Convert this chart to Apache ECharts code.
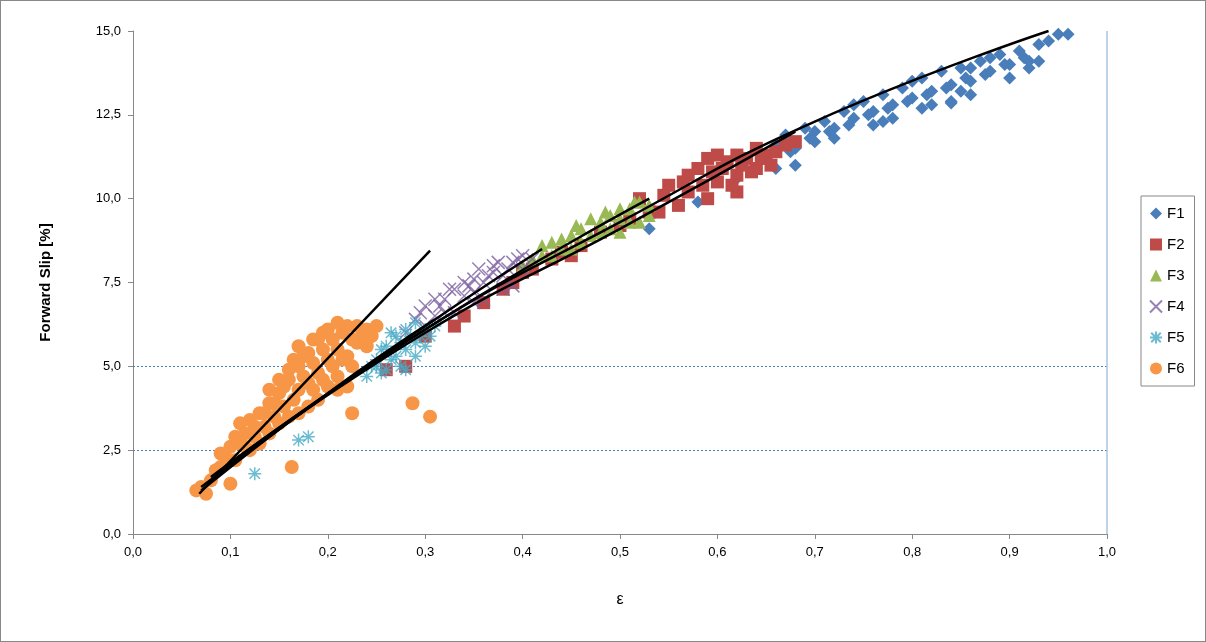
<!DOCTYPE html>
<html><head><meta charset="utf-8">
<script src="https://cdn.jsdelivr.net/npm/echarts@6/dist/echarts.min.js"></script>
<style>html,body{margin:0;padding:0;background:#fff}#c{width:1206px;height:642px;box-sizing:border-box;border:1px solid #888}</style>
</head><body><div id="c"></div>
<script>
// 数据
var names = ['F1', 'F2', 'F3', 'F4', 'F5', 'F6']
var colors = ['#4a7ebb', '#be4b48', '#98b954', '#7d60a0', '#46aac5', '#f79646']
var symbols = ['diamond', 'rect', 'triangle', 'path://M0,0L10,10M10,0L0,10', 'path://M5,0L5,10M0,5L10,5M1,1L9,9M9,1L1,9', 'circle']

var f1 = [[0.66,11.6],[0.67,11.9],[0.68,11.0],[0.69,12.1],[0.70,12.0],[0.71,12.3],[0.72,12.1],[0.73,12.6],[0.74,12.4],[0.75,12.9],[0.76,12.6],[0.77,13.1],[0.78,12.8],[0.79,13.3],[0.80,13.0],[0.81,13.6],[0.82,13.2],[0.83,13.8],[0.84,12.9],[0.85,13.9],[0.86,13.5],[0.87,14.1],[0.88,13.8],[0.89,14.3],[0.90,14.0],[0.91,14.4],[0.92,14.1],[0.93,14.6],[0.94,14.7],[0.95,14.9],[0.96,14.9],[0.72,11.8],[0.78,12.4],[0.84,13.4],[0.90,13.6],[0.82,12.8],[0.53,9.1],[0.58,9.9],[0.62,10.6],[0.66,10.9],[0.70,11.7],[0.76,12.2],[0.86,13.1],[0.92,13.9],
  [0.675,11.4],[0.695,11.8],[0.715,12.0],[0.735,12.2],[0.755,12.5],[0.775,12.7],[0.795,12.9],[0.815,13.1],[0.835,13.3],[0.855,13.6],[0.875,13.7],[0.895,14.0],[0.915,14.2],[0.74,12.8],[0.80,13.5],[0.86,13.9],[0.84,12.85],[0.93,14.1],[0.88,14.2],[0.77,12.3],[0.68,11.5],[0.81,12.7],[0.85,13.2]]
var f2 = [[0.40,7.8],[0.43,8.2],[0.46,8.6],[0.50,9.2],[0.52,10.0],[0.54,9.6],[0.55,10.4],[0.57,10.2],[0.58,10.9],[0.60,10.5],[0.61,11.1],[0.62,10.7],[0.63,11.2],[0.64,10.9],[0.65,11.3],[0.66,11.4],[0.67,11.6],[0.68,11.7],[0.56,9.8],[0.59,10.0],[0.62,10.2],[0.45,8.3],[0.48,9.0],[0.30,5.9],[0.33,6.2],[0.36,6.9],[0.28,5.0],[0.26,4.9],[0.59,11.2],[0.57,10.7],[0.64,11.5],[0.39,7.5],
  [0.545,10.1],[0.565,10.5],[0.585,10.4],[0.595,10.8],[0.605,10.9],[0.615,10.4],[0.625,11.0],[0.635,10.8],[0.645,11.2],[0.655,11.0],[0.60,11.3],[0.62,11.3],[0.53,9.6],[0.51,9.4],[0.44,8.4],[0.41,7.9],[0.34,6.5],[0.38,7.3]]
var f3 = [[0.40,8.0],[0.42,8.3],[0.43,8.7],[0.44,8.5],[0.45,8.9],[0.46,9.1],[0.47,8.9],[0.48,9.3],[0.49,9.5],[0.50,9.4],[0.51,9.7],[0.52,9.9],[0.53,9.8],[0.45,8.5],[0.48,9.0],[0.50,9.0],[0.52,9.3],[0.47,9.4],[0.50,9.7],[0.43,8.3],
  [0.41,8.2],[0.44,8.8],[0.46,8.7],[0.49,9.1],[0.51,9.3],[0.53,9.5],[0.455,9.2],[0.485,9.6],[0.515,9.9],[0.42,8.6]]
var f4 = [[0.28,6.0],[0.29,6.4],[0.30,6.8],[0.31,6.5],[0.32,7.0],[0.33,7.3],[0.34,7.1],[0.35,7.6],[0.36,7.5],[0.37,7.8],[0.38,7.7],[0.39,8.1],[0.40,7.9],[0.41,8.2],[0.33,6.6],[0.36,7.0],[0.39,7.4],[0.30,6.2],[0.31,7.0],[0.34,7.5],[0.37,8.0],[0.40,8.3],[0.35,7.2],[0.32,6.6],
  [0.295,6.6],[0.315,6.8],[0.325,7.3],[0.345,7.4],[0.355,7.9],[0.365,7.7],[0.375,8.1],[0.385,7.9],[0.395,8.2],[0.35,6.9],[0.38,7.3]]
var f5 = [[0.24,4.7],[0.25,5.2],[0.26,5.6],[0.26,4.9],[0.27,5.9],[0.27,5.3],[0.28,6.1],[0.28,5.5],[0.29,6.3],[0.29,5.7],[0.30,6.1],[0.30,5.6],[0.31,6.2],[0.25,5.0],[0.28,4.9],[0.125,1.8],[0.18,2.9],[0.17,2.8],[0.265,6.0],[0.295,5.9],[0.255,5.5],
  [0.245,5.0],[0.255,4.8],[0.265,5.2],[0.275,5.7],[0.285,5.9],[0.275,5.0],[0.305,5.9],[0.29,5.3]]
var f6 = [[0.065,1.3],[0.07,1.4],[0.075,1.2],[0.08,1.6],[0.085,1.9],[0.09,2.0],[0.095,2.3],[0.10,1.5],[0.10,2.6],[0.105,2.2],[0.11,3.3],[0.11,2.7],[0.115,3.0],[0.12,2.5],[0.12,3.4],[0.125,2.9],[0.13,3.6],[0.13,2.7],[0.135,3.2],[0.14,3.9],[0.14,3.0],[0.145,3.5],[0.15,4.2],[0.15,3.3],[0.155,3.8],[0.16,4.6],[0.16,3.5],[0.163,2.0],[0.165,4.0],[0.17,5.0],[0.17,4.3],[0.17,3.6],[0.175,4.7],[0.18,5.4],[0.18,4.5],[0.18,3.8],[0.185,5.1],[0.19,5.8],[0.19,4.8],[0.19,4.0],[0.195,5.5],[0.20,6.1],[0.20,5.2],[0.20,4.4],[0.205,5.8],[0.21,6.3],[0.21,5.5],[0.21,4.7],[0.215,6.0],[0.22,6.2],[0.22,5.3],[0.22,4.4],[0.225,3.6],[0.23,6.2],[0.23,5.7],[0.24,6.1],[0.24,5.6],[0.25,6.2],[0.287,3.9],[0.305,3.5],[0.16,4.9],[0.17,5.6],[0.15,4.6],[0.14,4.3],
  [0.185,4.3],[0.195,4.6],[0.205,5.0],[0.215,5.2],[0.225,5.0],[0.235,5.9],[0.175,5.3],[0.165,5.2],[0.155,4.4],[0.145,3.9],[0.135,3.6],[0.125,3.2],[0.115,2.6],[0.105,2.9],[0.09,2.4],[0.185,5.8],[0.195,6.0],[0.225,5.8],[0.245,5.9],[0.21,4.3]]
var pts = [f1, f2, f3, f4, f5, f6]

// 趋势线
var trends = [
  [[0.09,1.9],[0.3,6.1],[0.5,9.3],[0.7,12.3],[0.94,15.0]],
  [[0.09,1.9],[0.3,6.0],[0.5,9.1],[0.68,12.0]],
  [[0.08,1.7],[0.3,6.1],[0.53,10.0]],
  [[0.07,1.4],[0.25,5.2],[0.42,8.5]],
  [[0.07,1.3],[0.2,4.2],[0.31,6.4]],
  [[0.068,1.2],[0.305,8.45]]
]

var font = 'Liberation Sans'
var series = []
for (var i = 0; i < names.length; i++) {
  var isLine = i == 3 || i == 4
  series.push({
    name: names[i], type: 'scatter', data: pts[i], symbol: symbols[i],
    symbolSize: i == 5 ? 14 : 13,
    itemStyle: isLine ? { color: colors[i], borderColor: colors[i], borderWidth: 1.5 } : { color: colors[i], opacity: 1 },
    z: 2 + i
  })
}
for (var j = 0; j < trends.length; j++) {
  series.push({ type: 'line', data: trends[j], smooth: true, symbol: 'none', z: 20,
    lineStyle: { color: '#000', width: 2.5 }, silent: true })
}
series[0].markLine = {
  silent: true, symbol: 'none', label: { show: false },
  data: [
    { yAxis: 2.5, lineStyle: { color: '#4a7ebb', type: [2, 2], width: 1 } },
    { yAxis: 5, lineStyle: { color: '#4a7ebb', type: [2, 2], width: 1 } },
    { xAxis: 1, lineStyle: { color: '#a8c4dc', type: 'solid', width: 1.5 } }
  ]
}

var chart = echarts.init(document.getElementById('c'))
chart.setOption({
  animation: false,
  grid: { left: 132, right: 98, top: 30, bottom: 107 },
  legend: {
    data: names.map(function(n, k) { return { name: n, icon: symbols[k] } }),
    orient: 'vertical', left: 1140, top: 195, itemGap: 16, itemWidth: 12, itemHeight: 12,
    borderColor: '#888', borderWidth: 1, padding: [10, 10, 10, 8],
    textStyle: { fontFamily: font, fontSize: 15, color: '#000' }
  },
  xAxis: {
    type: 'value', min: 0, max: 1, interval: 0.1,
    name: 'ε', nameLocation: 'middle', nameGap: 58, nameTextStyle: { fontFamily: font, fontSize: 16, color: '#000' },
    axisLine: { lineStyle: { color: '#888' } }, axisTick: { lineStyle: { color: '#888' } },
    splitLine: { show: false },
    axisLabel: { fontFamily: font, fontSize: 13, color: '#000', margin: 12, formatter: function(v) { return v.toFixed(1).replace('.', ',') } }
  },
  yAxis: {
    type: 'value', min: 0, max: 15, interval: 2.5,
    name: 'Forward Slip [%]', nameLocation: 'middle', nameGap: 80,
    nameTextStyle: { fontFamily: font, fontSize: 15, fontWeight: 'bold', color: '#000' },
    axisLine: { show: true, lineStyle: { color: '#888' } }, axisTick: { show: true, lineStyle: { color: '#888' } },
    splitLine: { show: false },
    axisLabel: { fontFamily: font, fontSize: 13, color: '#000', margin: 12, formatter: function(v) { return v.toFixed(1).replace('.', ',') } }
  },
  series: series
})
</script></body></html>
